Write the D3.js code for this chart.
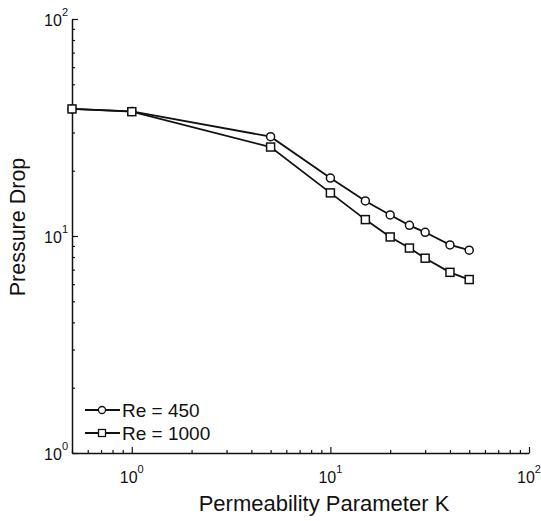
<!DOCTYPE html>
<html>
<head>
<meta charset="utf-8">
<script src="https://cdn.jsdelivr.net/npm/d3@7"></script>
<style>
  body { margin: 0; background: #fff; }
  text { font-family: "Liberation Sans", Arial, sans-serif; fill: #111; }
</style>
</head>
<body>
<script>
// Permeability parameter K on the x axis
var kValues = [0.5, 1, 5, 10, 15, 20, 25, 30, 40, 50];

// Pressure drop for both Reynolds numbers
var dropRe450 = [38.5, 37.5, 28.7, 18.5, 14.5, 12.5, 11.2, 10.4, 9.1, 8.6];
var dropRe1000 = [38.5, 37.4, 25.7, 15.8, 11.9, 9.9, 8.8, 7.9, 6.8, 6.3];

var seriesNames = ["Re = 450", "Re = 1000"];
var xDecades = [0, 1, 2];
var yDecades = [0, 1, 2];

var w = 541, h = 521;
var svg = d3.select("body").append("svg").attr("width", w).attr("height", h);

// Scales
var x = d3.scaleLog().domain([0.5, 100]).range([72, 529]);
var y = d3.scaleLog().domain([1, 100]).range([453, 19]);

// Minor tick values for each axis
var xMinor = [];
[0.1, 1, 10].forEach(function(base) {
  for (var i = 2; i < 10; i++) {
    var v = base * i;
    if (v >= 0.5 && v <= 100) xMinor.push(v);
  }
});
var yMinor = [];
[1, 10].forEach(function(base) {
  for (var i = 2; i < 10; i++) yMinor.push(base * i);
});

// Minor ticks
svg.append("g").attr("transform", "translate(0,453)")
   .call(d3.axisBottom(x).tickValues(xMinor).tickSize(-3).tickFormat(""))
   .call(function(g) { g.select(".domain").remove(); });
svg.append("g").attr("transform", "translate(72,0)")
   .call(d3.axisLeft(y).tickValues(yMinor).tickSize(-3).tickFormat(""))
   .call(function(g) { g.select(".domain").remove(); });

// Major ticks and axis lines
svg.append("g").attr("transform", "translate(0,453)")
   .call(d3.axisBottom(x).tickValues(xDecades.map(function(d) { return Math.pow(10, d); }))
           .tickSize(-6).tickSizeOuter(0).tickFormat(""));
svg.append("g").attr("transform", "translate(72,0)")
   .call(d3.axisLeft(y).tickValues(yDecades.map(function(d) { return Math.pow(10, d); }))
           .tickSize(-6).tickSizeOuter(0).tickFormat(""));

svg.selectAll(".domain").attr("stroke", "#111").attr("stroke-width", 1.5);
svg.selectAll(".tick line").attr("stroke", "#111").attr("stroke-width", 1.2);

// Tick labels, written as 10 with a superscript
xDecades.forEach(function(d) {
  var t = svg.append("text").attr("x", x(Math.pow(10, d))).attr("y", 483)
             .attr("text-anchor", "middle").style("font-size", "16px");
  t.append("tspan").text("10");
  t.append("tspan").attr("dy", -10).style("font-size", "11px").text(d);
});
yDecades.forEach(function(d) {
  var t = svg.append("text").attr("x", 68).attr("y", y(Math.pow(10, d)) + 7)
             .attr("text-anchor", "end").style("font-size", "16px");
  t.append("tspan").text("10");
  t.append("tspan").attr("dy", -10).style("font-size", "11px").text(d);
});

// Axis titles
svg.append("text").attr("x", 324).attr("y", 511).attr("text-anchor", "middle")
   .style("font-size", "22px").text("Permeability Parameter K");
svg.append("text").attr("transform", "translate(25,227) rotate(-90)")
   .attr("text-anchor", "middle").style("font-size", "21.5px").text("Pressure Drop");

// Lines
var line = d3.line()
  .x(function(d, i) { return x(kValues[i]); })
  .y(function(d) { return y(d); });

[dropRe450, dropRe1000].forEach(function(s) {
  svg.append("path").datum(s).attr("d", line)
     .attr("fill", "none").attr("stroke", "#111").attr("stroke-width", 1.8);
});

// Markers
svg.selectAll("circle.m").data(dropRe450).enter().append("circle")
   .attr("class", "m")
   .attr("cx", function(d, i) { return x(kValues[i]); })
   .attr("cy", function(d) { return y(d); })
   .attr("r", 4).attr("fill", "#fff").attr("stroke", "#111").attr("stroke-width", 1.5);
svg.selectAll("rect.m").data(dropRe1000).enter().append("rect")
   .attr("class", "m")
   .attr("x", function(d, i) { return x(kValues[i]) - 4; })
   .attr("y", function(d) { return y(d) - 4; })
   .attr("width", 8).attr("height", 8)
   .attr("fill", "#fff").attr("stroke", "#111").attr("stroke-width", 1.5);

// Legend
var legendY = [410, 433];
seriesNames.forEach(function(name, i) {
  var ly = legendY[i];
  svg.append("line").attr("x1", 85).attr("x2", 120).attr("y1", ly).attr("y2", ly)
     .attr("stroke", "#111").attr("stroke-width", 1.8);
  if (i == 0) {
    svg.append("circle").attr("cx", 102).attr("cy", ly).attr("r", 3.5)
       .attr("fill", "#fff").attr("stroke", "#111").attr("stroke-width", 1.3);
  } else {
    svg.append("rect").attr("x", 98.5).attr("y", ly - 3.5).attr("width", 7).attr("height", 7)
       .attr("fill", "#fff").attr("stroke", "#111").attr("stroke-width", 1.3);
  }
  svg.append("text").attr("x", 122).attr("y", ly + 7).style("font-size", "19px").text(name);
});
</script>
</body>
</html>
